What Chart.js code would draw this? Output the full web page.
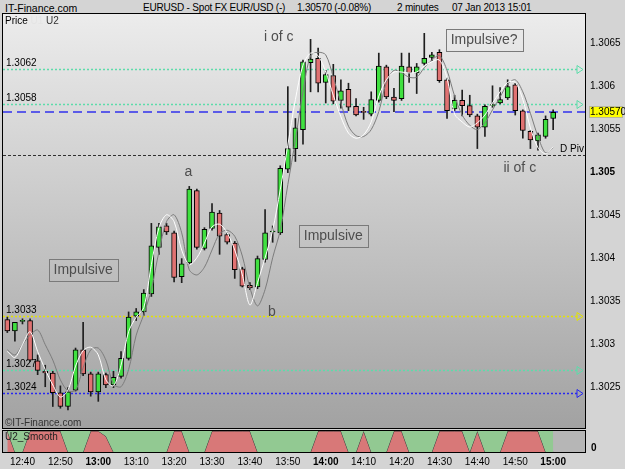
<!DOCTYPE html>
<html>
<head>
<meta charset="UTF-8">
<title>EURUSD 2 minutes</title>
<script src="https://cdn.jsdelivr.net/npm/chart.js"></script>
<style>
  body { margin: 0; background: #d4d4d4; font-family: "Liberation Sans", Arial, sans-serif; }
  #wrap { position: relative; width: 625px; height: 469px; overflow: hidden; }
  canvas { position: absolute; left: 0; top: 0; }
  .hdr { position: absolute; top: 2px; font-size: 10px; letter-spacing: -0.2px; color: #000; white-space: pre; }
</style>
</head>
<body>
<div id="wrap">
  <div class="hdr" style="left:5px;font-size:10.5px;letter-spacing:0">IT-Finance.com</div>
  <div class="hdr" style="left:143px">EURUSD - Spot FX EUR/USD (-)</div>
  <div class="hdr" style="left:297px">1.30570 (-0.08%)</div>
  <div class="hdr" style="left:397px">2 minutes</div>
  <div class="hdr" style="left:452px">07 Jan 2013 15:01</div>
  <canvas id="main" width="625" height="469"></canvas>
  <canvas id="ind" width="625" height="469"></canvas>
</div>
<script>
// 2-minute candles, 12:36 .. 15:00
const opens = [1.30329,1.30316,1.30327,1.30328,1.30281,1.30269,1.30267,1.30244,1.30228,1.30247,
  1.30294,1.30266,1.30245,1.30265,1.30253,1.30263,1.30284,1.30333,1.30338,1.30359,
  1.30413,1.30438,1.30430,1.30379,1.30395,1.30479,1.30412,1.30435,1.30453,1.30428,
  1.30418,1.30388,1.30369,1.30367,1.30399,1.30431,1.30430,1.30504,1.30528,1.30550,
  1.30628,1.30633,1.30605,1.30613,1.30584,1.30597,1.30577,1.30571,1.30568,1.30584,
  1.30623,1.30588,1.30586,1.30623,1.30616,1.30627,1.30634,1.30640,1.30608,1.30574,
  1.30584,1.30578,1.30566,1.30553,1.30578,1.30581,1.30587,1.30602,1.30572,1.30548,
  1.30537,1.30542,1.30563];
const highs = [1.30332,1.30326,1.30330,1.30330,1.30288,1.30276,1.30269,1.30252,1.30250,1.30296,
  1.30326,1.30268,1.30268,1.30267,1.30269,1.30292,1.30338,1.30342,1.30364,1.30441,
  1.30441,1.30441,1.30432,1.30400,1.30484,1.30481,1.30436,1.30464,1.30456,1.30430,
  1.30420,1.30390,1.30372,1.30403,1.30457,1.30438,1.30508,1.30600,1.30563,1.30631,
  1.30655,1.30645,1.30619,1.30626,1.30608,1.30604,1.30586,1.30576,1.30594,1.30639,
  1.30625,1.30598,1.30639,1.30639,1.30627,1.30662,1.30640,1.30643,1.30610,1.30590,
  1.30596,1.30590,1.30568,1.30579,1.30601,1.30599,1.30608,1.30604,1.30573,1.30549,
  1.30546,1.30566,1.30573];
const lows = [1.30314,1.30304,1.30324,1.30280,1.30265,1.30251,1.30228,1.30226,1.30224,1.30246,
  1.30264,1.30240,1.30234,1.30250,1.30250,1.30261,1.30282,1.30328,1.30334,1.30356,
  1.30405,1.30428,1.30373,1.30372,1.30393,1.30411,1.30410,1.30433,1.30405,1.30417,
  1.30377,1.30367,1.30364,1.30365,1.30396,1.30419,1.30428,1.30500,1.30513,1.30533,
  1.30594,1.30594,1.30581,1.30580,1.30575,1.30572,1.30566,1.30562,1.30566,1.30582,
  1.30586,1.30571,1.30584,1.30605,1.30592,1.30625,1.30630,1.30605,1.30563,1.30572,
  1.30566,1.30565,1.30528,1.30542,1.30576,1.30580,1.30585,1.30567,1.30540,1.30528,
  1.30526,1.30540,1.30550];
const closes = [1.30316,1.30326,1.30328,1.30282,1.30270,1.30267,1.30244,1.30228,1.30245,1.30294,
  1.30266,1.30245,1.30266,1.30253,1.30262,1.30284,1.30332,1.30338,1.30360,1.30415,
  1.30437,1.30431,1.30378,1.30394,1.30481,1.30413,1.30434,1.30454,1.30426,1.30419,
  1.30387,1.30368,1.30366,1.30400,1.30430,1.30432,1.30505,1.30528,1.30552,1.30629,
  1.30632,1.30604,1.30614,1.30583,1.30595,1.30576,1.30567,1.30570,1.30585,1.30624,
  1.30588,1.30584,1.30624,1.30616,1.30623,1.30633,1.30637,1.30607,1.30572,1.30584,
  1.30578,1.30567,1.30553,1.30577,1.30579,1.30585,1.30600,1.30572,1.30549,1.30538,
  1.30544,1.30562,1.30570];

// U1 (white) and U2 (grey) smoothed lines
const u1 = [1.30292,1.30285,1.30300,1.30315,1.30292,1.30271,1.30253,1.30239,1.30247,1.30275,
  1.30293,1.30297,1.30288,1.30259,1.30252,1.30276,1.30315,1.30332,1.30343,1.30393,
  1.30436,1.30451,1.30443,1.30410,1.30393,1.30401,1.30418,1.30437,1.30440,1.30430,
  1.30410,1.30381,1.30346,1.30372,1.30401,1.30433,1.30480,1.30532,1.30585,1.30625,
  1.30639,1.30636,1.30617,1.30590,1.30565,1.30546,1.30540,1.30544,1.30559,1.30589,
  1.30608,1.30617,1.30617,1.30616,1.30617,1.30624,1.30629,1.30631,1.30610,1.30568,
  1.30559,1.30553,1.30558,1.30567,1.30581,1.30594,1.30605,1.30605,1.30585,1.30552,
  1.30529,1.30522,1.30530];
const u2 = [1.30294,1.30288,1.30300,1.30311,1.30317,1.30300,1.30282,1.30259,1.30246,1.30247,
  1.30273,1.30294,1.30296,1.30282,1.30254,1.30251,1.30271,1.30311,1.30335,1.30364,
  1.30408,1.30443,1.30451,1.30430,1.30387,1.30381,1.30390,1.30410,1.30429,1.30433,
  1.30426,1.30403,1.30366,1.30345,1.30364,1.30401,1.30433,1.30486,1.30538,1.30594,
  1.30636,1.30640,1.30637,1.30611,1.30581,1.30554,1.30543,1.30542,1.30550,1.30571,
  1.30605,1.30619,1.30616,1.30611,1.30611,1.30622,1.30631,1.30636,1.30619,1.30589,
  1.30567,1.30555,1.30550,1.30558,1.30573,1.30588,1.30603,1.30608,1.30594,1.30569,
  1.30542,1.30523,1.30529];

// U2_Smooth panel: 1 = falling (red), 0 = rising (green)
const smooth = [1,0,0,1,1,1,1,1,0,0,
  0,1,1,0.75,0,0,0,0,0,0,
  0,0,1,1,0,0,0,1,1,1,
  1,1,1,0,0,0,0,0,0,0,
  0,1,1,1,1,0,0,1,0,0,
  0,1,1,0,0,0,0,1,1,1,
  1,0,1,0,0,0,1,1,1,1,
  1,0,0];

const timeTicks = [2,7,12,17,22,27,32,37,42,47,52,57,62,67,72];
const timeLabels = ['12:40','12:50','13:00','13:10','13:20','13:30','13:40','13:50',
  '14:00','14:10','14:20','14:30','14:40','14:50','15:00'];
const boldTimes = ['13:00','14:00','15:00'];

const priceTicks = [1.3025,1.303,1.3035,1.304,1.3045,1.305,1.3055,1.306,1.3065];
const priceLabels = ['1.3025','1.303','1.3035','1.304','1.3045','1.305','1.3055','1.306','1.3065'];

const levelValues = [1.30620, 1.30580, 1.30333, 1.30271, 1.30244];
const levelLabels = ['1.3062', '1.3058', '1.3033', '1.3027', '1.3024'];
const levelColors = ['#5ddcaa', '#5ddcaa', '#e4e400', '#5ddcaa', '#2626f2'];
const lastPrice = 1.30570;
const pivotPrice = 1.30520;

// wave notes: text, candle index, price, boxed
const notes = [
  ['i of c', 35.8, 1.30658, false],
  ['Impulsive?', 62.9, 1.30654, true],
  ['a', 23.9, 1.30500, false],
  ['b', 34.9, 1.30338, false],
  ['Impulsive', 43.0, 1.30426, true],
  ['Impulsive', 10.0, 1.30387, true],
  ['ii of c', 67.6, 1.30505, false]
];

const FONT = '"Liberation Sans", Arial, sans-serif';
const GREEN = '#40e040', RED = '#e07272';
const xMin = -0.57, xMax = 76.2;
const idx = opens.map((_, i) => i);

function frame(chart, fill) {
  const {ctx, chartArea: a} = chart;
  ctx.save();
  ctx.fillStyle = fill;
  ctx.fillRect(a.left, a.top, a.right - a.left, a.bottom - a.top);
  ctx.restore();
}
function border(chart) {
  const {ctx, chartArea: a} = chart;
  ctx.save();
  ctx.strokeStyle = '#000';
  ctx.lineWidth = 1;
  ctx.strokeRect(Math.round(a.left) - 0.5, Math.round(a.top) - 0.5,
    Math.round(a.right - a.left) + 1, Math.round(a.bottom - a.top) + 1);
  ctx.restore();
}

const mainDecor = {
  id: 'mainDecor',
  beforeDraw(chart) {
    const a = chart.chartArea;
    const g = chart.ctx.createLinearGradient(0, a.top, 0, a.bottom);
    g.addColorStop(0, '#ececec');
    g.addColorStop(1, '#a2a2a2');
    frame(chart, g);
  },
  beforeDatasetsDraw(chart) {
    const {ctx, chartArea: a} = chart;
    const y = chart.scales.y;
    ctx.save();
    ctx.font = '10px ' + FONT;
    ctx.textBaseline = 'bottom';
    levelValues.forEach((v, k) => {
      const py = Math.round(y.getPixelForValue(v)) + 0.5;
      ctx.strokeStyle = levelColors[k];
      ctx.lineWidth = 1.5;
      ctx.setLineDash([2, 2]);
      ctx.beginPath(); ctx.moveTo(a.left, py); ctx.lineTo(a.right - 8, py); ctx.stroke();
      ctx.setLineDash([]);
      ctx.lineWidth = 1;
      ctx.beginPath();
      ctx.moveTo(a.right - 8, py - 4); ctx.lineTo(a.right - 2, py); ctx.lineTo(a.right - 8, py + 4);
      ctx.closePath(); ctx.stroke();
      ctx.fillStyle = '#000';
      ctx.fillText(levelLabels[k], a.left + 3, py - 1);
    });
    // current price
    let py = Math.round(y.getPixelForValue(lastPrice));
    ctx.strokeStyle = '#5b5be8';
    ctx.lineWidth = 2;
    ctx.setLineDash([9, 5]);
    ctx.beginPath(); ctx.moveTo(a.left, py); ctx.lineTo(a.right, py); ctx.stroke();
    // daily pivot
    py = Math.round(y.getPixelForValue(pivotPrice)) + 0.5;
    ctx.strokeStyle = '#303030';
    ctx.lineWidth = 1;
    ctx.setLineDash([3, 2]);
    ctx.beginPath(); ctx.moveTo(a.left, py); ctx.lineTo(a.right, py); ctx.stroke();
    ctx.setLineDash([]);
    ctx.fillStyle = '#000';
    ctx.textAlign = 'right';
    ctx.fillText('D Piv', a.right - 1, py - 1);
    ctx.restore();
  },
  afterDatasetsDraw(chart) {
    const {ctx} = chart;
    const x = chart.scales.x, y = chart.scales.y;
    ctx.save();
    ctx.font = '14px ' + FONT;
    ctx.textAlign = 'center';
    ctx.textBaseline = 'middle';
    notes.forEach(([t, i, p, boxed]) => {
      const px = x.getPixelForValue(i), py = y.getPixelForValue(p);
      ctx.fillStyle = '#4e4e4e';
      ctx.fillText(t, px, py);
      if (boxed) {
        const w = ctx.measureText(t).width + 10;
        ctx.strokeStyle = '#7a7a7a';
        ctx.lineWidth = 1;
        ctx.strokeRect(Math.round(px - w / 2) + 0.5, Math.round(py - 11) + 0.5, Math.round(w), 22);
      }
    });
    ctx.restore();
  },
  afterDraw(chart) {
    border(chart);
    const {ctx, chartArea: a} = chart;
    const y = chart.scales.y;
    ctx.save();
    ctx.font = '10px ' + FONT;
    ctx.textBaseline = 'middle';
    ctx.fillStyle = '#000';
    ctx.fillText('Price', a.left + 2, a.top + 7);
    let w = ctx.measureText('Price ').width;
    ctx.fillStyle = '#e4e4e4';
    ctx.fillText('U1', a.left + 2 + w, a.top + 7);
    w += ctx.measureText('U1 ').width;
    ctx.fillStyle = '#333';
    ctx.fillText('U2', a.left + 2 + w, a.top + 7);
    ctx.fillStyle = '#333';
    ctx.fillText('\u00a9IT-Finance.com', a.left + 2, a.bottom - 5);
    // last price tag on axis
    const py = Math.round(y.getPixelForValue(lastPrice));
    ctx.fillStyle = '#ffff00';
    ctx.fillRect(a.right + 4, py - 6, 34, 12);
    ctx.strokeStyle = '#b8b89a';
    ctx.strokeRect(a.right + 4.5, py - 5.5, 33, 11);
    ctx.fillStyle = '#000';
    ctx.fillText('1.30570', a.right + 5, py);
    ctx.restore();
  }
};

new Chart(document.getElementById('main'), {
  type: 'bar',
  data: {
    datasets: [
      {
        type: 'line', data: idx.map(i => ({x: i, y: u1[i]})),
        borderColor: '#ffffff', borderWidth: 1, pointRadius: 0, tension: 0.3, order: 0
      },
      {
        type: 'line', data: idx.map(i => ({x: i, y: u2[i]})),
        borderColor: '#7c7c7c', borderWidth: 1, pointRadius: 0, tension: 0.3, order: 0
      },
      {
        data: idx.map(i => ({x: i, y: [opens[i], closes[i]]})),
        backgroundColor: idx.map(i => closes[i] >= opens[i] ? GREEN : RED),
        borderColor: '#000', borderWidth: 1, borderSkipped: false,
        barThickness: 5, minBarLength: 1, grouped: false, order: 1
      },
      {
        data: idx.map(i => ({x: i, y: [lows[i], highs[i]]})),
        backgroundColor: '#1e1e1e', borderWidth: 0,
        barThickness: 1, grouped: false, order: 2
      }
    ]
  },
  options: {
    responsive: false,
    animation: false,
    events: [],
    layout: { padding: { left: 3, top: 14, right: 0, bottom: 41 } },
    plugins: { legend: { display: false }, tooltip: { enabled: false } },
    scales: {
      x: { type: 'linear', display: false, min: xMin, max: xMax, offset: false },
      y: {
        position: 'right',
        min: 1.30203, max: 1.306845,
        grid: { display: false, drawTicks: false },
        border: { display: false },
        afterFit(s) { s.width = 40; },
        afterBuildTicks(s) { s.ticks = priceTicks.map(v => ({value: v})); },
        ticks: {
          padding: 5,
          color: '#000',
          font: ctx => ({ family: FONT, size: 10, weight: ctx.tick && ctx.tick.value === 1.305 ? 'bold' : 'normal' }),
          callback: v => priceLabels[priceTicks.indexOf(v)]
        }
      }
    }
  },
  plugins: [mainDecor]
});

const indDecor = {
  id: 'indDecor',
  beforeDraw(chart) { frame(chart, '#b6b6b6'); },
  afterDraw(chart) {
    border(chart);
    const {ctx, chartArea: a} = chart;
    ctx.save();
    ctx.font = '10px ' + FONT;
    ctx.fillStyle = '#222';
    ctx.textBaseline = 'middle';
    ctx.fillText('U2_Smooth', a.left + 2, a.top + 6);
    ctx.restore();
  }
};

new Chart(document.getElementById('ind'), {
  type: 'line',
  data: {
    datasets: [
      {
        data: idx.map(i => ({x: i, y: smooth[i]})),
        fill: 'end', backgroundColor: '#92c992', borderWidth: 0, pointRadius: 0
      },
      {
        data: idx.map(i => ({x: i, y: smooth[i]})),
        fill: 'start', backgroundColor: '#d87878', borderColor: '#3a3a3a',
        borderWidth: 1, pointRadius: 0
      }
    ]
  },
  options: {
    responsive: false,
    animation: false,
    events: [],
    layout: { padding: { left: 3, top: 431, right: 0, bottom: 0 } },
    plugins: { legend: { display: false }, tooltip: { enabled: false } },
    scales: {
      x: {
        type: 'linear', min: xMin, max: xMax, offset: false,
        grid: { display: false, drawTicks: false },
        border: { display: false },
        afterFit(s) { s.height = 17; },
        afterBuildTicks(s) { s.ticks = timeTicks.map(v => ({value: v})); },
        ticks: {
          autoSkip: false, maxRotation: 0, padding: 4, color: '#000',
          font: ctx => ({ family: FONT, size: 10,
            weight: ctx.tick && boldTimes.includes(timeLabels[timeTicks.indexOf(ctx.tick.value)]) ? 'bold' : 'normal' }),
          callback: v => timeLabels[timeTicks.indexOf(v)]
        }
      },
      y: {
        position: 'right', min: 0, max: 1,
        grid: { display: false, drawTicks: false },
        border: { display: false },
        afterFit(s) { s.width = 40; },
        afterBuildTicks(s) { s.ticks = [{value: 0}]; },
        ticks: {
          padding: 6, color: '#000', labelOffset: -4,
          font: { family: FONT, size: 10, weight: 'bold' },
          callback: () => '0'
        }
      }
    }
  },
  plugins: [indDecor]
});
</script>
</body>
</html>
